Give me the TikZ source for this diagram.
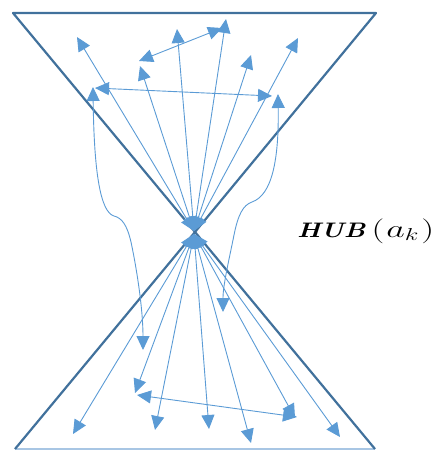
\documentclass[tikz,border=0pt]{standalone}
\usepackage{graphicx}
\usetikzlibrary{arrows.meta}
\definecolor{arr}{HTML}{5B9BD5}
\definecolor{tri}{HTML}{41719C}
\definecolor{basec}{HTML}{A8C6E4}
\tikzset{
  conn/.style={draw=arr, line width=0.9pt, arrows={-Triangle[length=14pt,width=13pt]}},
  dconn/.style={draw=arr, line width=0.9pt, arrows={Triangle[length=14pt,width=13pt]-Triangle[length=14pt,width=13pt]}},
  edge/.style={draw=tri, line width=2.2pt},
}
\begin{document}
\begin{tikzpicture}[x=1pt,y=-1pt]
\useasboundingbox (0,0) rectangle (435,450);
% key points
\coordinate (ap) at (195,232);
\coordinate (hu) at (194,231);
\coordinate (hl) at (194,234);
\coordinate (tl) at (13,13);
\coordinate (tr) at (376,13);
\coordinate (bl) at (15,449);
\coordinate (br) at (375,449);
% triangles
\draw[edge, line join=round] (tr) -- (tl) -- (ap) -- cycle;
\draw[draw=basec, line width=1.4pt] (bl) -- (br);
\draw[edge, line join=round] (bl) -- (ap) -- (br);
% upper ends
\coordinate (u1) at (77,37);
\coordinate (u2) at (140,66);
\coordinate (u3) at (177,29);
\coordinate (u4) at (226,19);
\coordinate (u5) at (251,55);
\coordinate (u6) at (298,38);
\coordinate (da1) at (139,61);
\coordinate (da2) at (222,28);
\coordinate (db1) at (95,88);
\coordinate (db2) at (272,96);
\coordinate (lt) at (93,87);
\coordinate (lb) at (143,350);
\coordinate (rt) at (278,94);
\coordinate (rb) at (223,312);
% lower ends
\coordinate (l1) at (73,434);
\coordinate (l2) at (135,393);
\coordinate (l3) at (155,430);
\coordinate (l4) at (209,429);
\coordinate (l5) at (251,443);
\coordinate (l6) at (295,418);
\coordinate (l7) at (340,437);
\coordinate (dc1) at (137,395);
\coordinate (dc2) at (297,417);
% hub arrows up
\foreach \e in {u1,u2,u3,u4,u5,u6} \draw[dconn] (hu) -- (\e);
% hub arrows down
\foreach \e in {l1,l2,l3,l4,l5,l6,l7} \draw[dconn] (hl) -- (\e);
% cross arrows
\draw[dconn] (da1) -- (da2);
\draw[dconn] (db1) -- (db2);
\draw[dconn] (dc1) -- (dc2);
% curved arrows
\draw[dconn] (lt) .. controls (94,170) and (100,212) .. (114,216)
  .. controls (122,218) and (127,225) .. (131,242)
  .. controls (137,270) and (143,310) .. (lb);
\draw[dconn] (rt) .. controls (279,160) and (272,195) .. (252,202)
  .. controls (243,205) and (238,215) .. (234,235)
  .. controls (229,260) and (223,285) .. (rb);
% label
\node[anchor=west, inner sep=0pt] (hub) at (297,231)
  {\fontsize{21}{24}\selectfont\scalebox{1.25}[1]{\textbf{\textit{HUB}}}\hspace{6pt}%
   \fontsize{25}{28}\selectfont\scalebox{1.45}[1]{$(\mkern1mu a_{k}\mkern1mu)$}};
\end{tikzpicture}
\end{document}
